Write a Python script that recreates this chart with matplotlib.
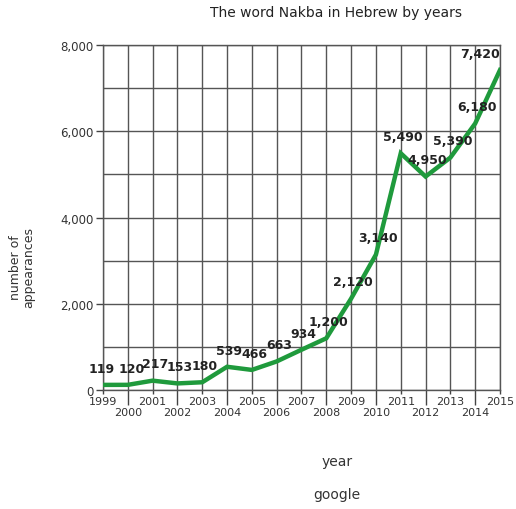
import matplotlib.pyplot as plt
from matplotlib.ticker import MultipleLocator, FuncFormatter

years = list(range(1999, 2016))
counts = [119, 120, 217, 153, 180, 539, 466, 663, 934, 1200,
          2120, 3140, 5490, 4950, 5390, 6180, 7420]

fig = plt.figure(figsize=(5.16, 5.10), dpi=100)
ax = fig.add_axes([0.1996, 0.2333, 0.7694, 0.6765])

ax.plot(years, counts, color="#1f9a3c", linewidth=3.2, solid_joinstyle="miter", zorder=3)

for x, y in zip(years, counts):
    txt = "{:,}".format(y)
    ha = "center"
    dx = 1.5
    if x == years[0]:
        dx = -1
    if x == years[1]:
        dx = 3
    if x == years[-1]:
        ha = "right"
        dx = 0
    ax.annotate(txt, (x, y), xytext=(dx, 12), textcoords="offset points",
                ha=ha, va="center", fontsize=9, fontweight="bold",
                color="#222222", zorder=4)

ax.set_xlim(1999, 2015)
ax.set_ylim(0, 8000)

# odd years on the upper row, even years on the lower row
ax.set_xticks([y for y in years if y % 2 == 1])
ax.set_xticks([y for y in years if y % 2 == 0], minor=True)
ax.set_xticklabels([str(y) for y in years if y % 2 == 1])
ax.set_xticklabels([str(y) for y in years if y % 2 == 0], minor=True)
ax.tick_params(axis="x", which="major", length=3, width=1, pad=1.5,
               labelsize=8, colors="#444444", labelcolor="#333333")
ax.tick_params(axis="x", which="minor", length=11, width=1, pad=1,
               labelsize=8, colors="#444444", labelcolor="#333333")

ax.yaxis.set_major_locator(MultipleLocator(2000))
ax.yaxis.set_minor_locator(MultipleLocator(1000))
ax.yaxis.set_major_formatter(FuncFormatter(lambda v, p: "{:,}".format(int(v))))
ax.tick_params(axis="y", which="major", length=5, width=1, pad=2,
               labelsize=8.5, colors="#444444", labelcolor="#333333")
ax.tick_params(axis="y", which="minor", length=0)

ax.grid(True, which="both", color="#555555", linewidth=1.0)
ax.set_axisbelow(True)
for s in ax.spines.values():
    s.set_color("#555555")
    s.set_linewidth(1.0)

fig.text(0.651, 0.974, "The word Nakba in Hebrew by years", ha="center", va="center",
         fontsize=10, color="#222222")
fig.text(0.043, 0.475, "number of\nappearances", ha="center", va="center",
         rotation=90, fontsize=9, color="#333333", linespacing=1.1)
fig.text(0.653, 0.095, "year", ha="center", va="center", fontsize=10, color="#333333")
fig.text(0.653, 0.030, "google", ha="center", va="center", fontsize=10, color="#333333")

plt.savefig("out.png", dpi=100)
